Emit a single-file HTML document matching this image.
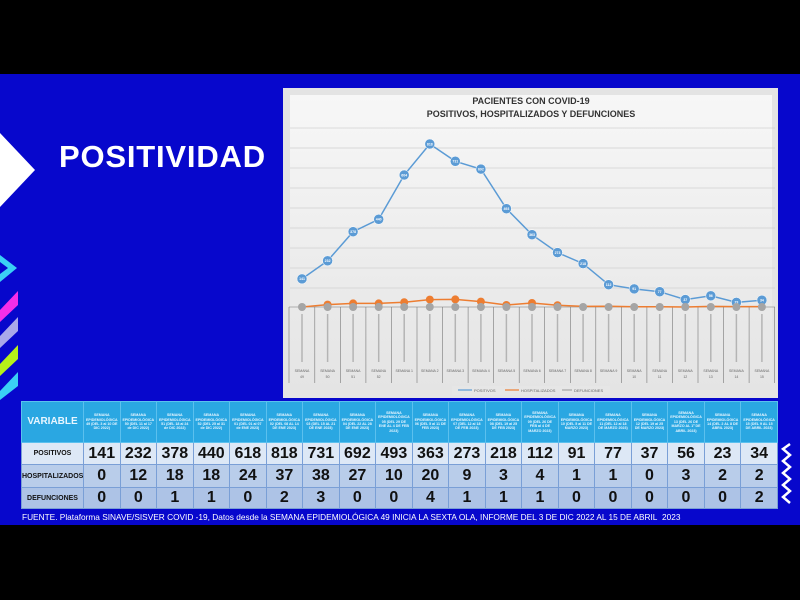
<!DOCTYPE html>
<html><head><meta charset="utf-8"><style>
*{margin:0;padding:0;box-sizing:border-box}
body{width:800px;height:600px;background:#000;position:relative;overflow:hidden;font-family:"Liberation Sans",sans-serif}
#slide{position:absolute;left:0;top:74px;width:800px;height:451px;background:#0707cc}
#title{position:absolute;left:59px;top:139px;color:#fff;font-weight:bold;font-size:31px;letter-spacing:0.8px}
table{position:absolute;left:21px;top:401px;width:757px;border-collapse:collapse;table-layout:fixed}
td{border:1px solid #7a9fd6;text-align:center;font-weight:bold;color:#111}
tr.h td{background:#2aa7e2;color:#e8f6ff;font-size:3.6px;line-height:4.4px;height:41px;padding:0 2px;border-color:#5bc0ee}
tr.h td.v{font-size:10px;line-height:12px}
tr.p td{background:#dde8f6;height:22px;font-size:16px}
tr.o td{background:#b9cdea;height:23px;font-size:16px}
tr.d td{background:#adc3e6;height:21px;font-size:16px}
td.l{font-size:7px!important}
#foot{position:absolute;left:22px;top:512px;color:#fff;font-size:8.3px}
</style></head><body>
<div id="slide"></div>
<svg width="800" height="600" style="position:absolute;left:0;top:0">
<defs><linearGradient id="g" x1="0" y1="0" x2="0" y2="1"><stop offset="0" stop-color="#f7f7f7"/><stop offset="1" stop-color="#e4e4e4"/></linearGradient></defs>
<polygon points="0,133 35,170 0,207" fill="#fff"/>
<polygon points="0,255 17,268 0,282 0,274 8,268 0,262" fill="#3ad0f5"/>
<polygon points="0,310 18,291 18,305 0,322" fill="#f52ee8"/>
<polygon points="0,336 18,317 18,331 0,348" fill="#a9a8ea"/>
<polygon points="0,364 18,345 18,359 0,376" fill="#b6f01a"/>
<polygon points="0,391 18,372 18,386 0,400" fill="#3ad0f5"/>
<polyline points="790,444 783,449 790,455 783,461 790,467 783,473 790,479 783,485 790,491 783,497 790,503" fill="none" stroke="#fff" stroke-width="2.5"/>
<rect x="283" y="88" width="495" height="310" fill="#e4e4e4"/>
<rect x="290" y="95" width="482" height="298" fill="url(#g)"/>
<text x="531" y="104" font-size="9" font-weight="bold" text-anchor="middle" fill="#333">PACIENTES CON COVID-19</text>
<text x="531" y="117" font-size="9" font-weight="bold" text-anchor="middle" fill="#333">POSITIVOS, HOSPITALIZADOS Y DEFUNCIONES</text>
<g stroke="#d0d0d0" stroke-width="0.8">
<line x1="290" x2="775" y1="128" y2="128"/><line x1="290" x2="775" y1="148" y2="148"/><line x1="290" x2="775" y1="168" y2="168"/><line x1="290" x2="775" y1="188" y2="188"/><line x1="290" x2="775" y1="208" y2="208"/><line x1="290" x2="775" y1="228" y2="228"/><line x1="290" x2="775" y1="248" y2="248"/><line x1="290" x2="775" y1="268" y2="268"/><line x1="290" x2="775" y1="288" y2="288"/>
</g>
<g stroke="#777" stroke-width="0.6" fill="none">
<line x1="289" x2="775" y1="307" y2="307"/>
<line x1="289" y1="307" x2="289" y2="383"/><line x1="314.8" y1="307" x2="314.8" y2="383"/><line x1="340.3" y1="307" x2="340.3" y2="383"/><line x1="365.9" y1="307" x2="365.9" y2="383"/><line x1="391.4" y1="307" x2="391.4" y2="383"/><line x1="417" y1="307" x2="417" y2="383"/><line x1="442.5" y1="307" x2="442.5" y2="383"/><line x1="468.1" y1="307" x2="468.1" y2="383"/><line x1="493.6" y1="307" x2="493.6" y2="383"/><line x1="519.2" y1="307" x2="519.2" y2="383"/><line x1="544.7" y1="307" x2="544.7" y2="383"/><line x1="570.3" y1="307" x2="570.3" y2="383"/><line x1="595.8" y1="307" x2="595.8" y2="383"/><line x1="621.4" y1="307" x2="621.4" y2="383"/><line x1="646.9" y1="307" x2="646.9" y2="383"/><line x1="672.5" y1="307" x2="672.5" y2="383"/><line x1="698" y1="307" x2="698" y2="383"/><line x1="723.6" y1="307" x2="723.6" y2="383"/><line x1="749.1" y1="307" x2="749.1" y2="383"/><line x1="774.7" y1="307" x2="774.7" y2="383"/>
</g>
<g font-size="3.5" fill="#666" text-anchor="middle">
<text x="302" y="372">SEMANA</text><text x="302" y="378">49</text>
<text x="327.6" y="372">SEMANA</text><text x="327.6" y="378">50</text>
<text x="353.1" y="372">SEMANA</text><text x="353.1" y="378">51</text>
<text x="378.7" y="372">SEMANA</text><text x="378.7" y="378">52</text>
<text x="404.2" y="372">SEMANA 1</text><text x="429.8" y="372">SEMANA 2</text><text x="455.3" y="372">SEMANA 3</text><text x="480.9" y="372">SEMANA 4</text><text x="506.4" y="372">SEMANA 5</text><text x="532" y="372">SEMANA 6</text><text x="557.5" y="372">SEMANA 7</text><text x="583.1" y="372">SEMANA 8</text><text x="608.6" y="372">SEMANA 9</text>
<text x="634.2" y="372">SEMANA</text><text x="634.2" y="378">10</text>
<text x="659.7" y="372">SEMANA</text><text x="659.7" y="378">11</text>
<text x="685.3" y="372">SEMANA</text><text x="685.3" y="378">12</text>
<text x="710.8" y="372">SEMANA</text><text x="710.8" y="378">13</text>
<text x="736.4" y="372">SEMANA</text><text x="736.4" y="378">14</text>
<text x="761.9" y="372">SEMANA</text><text x="761.9" y="378">15</text>
</g>
<g stroke="#b4b4b4" stroke-width="1.5">
<line x1="302" y1="314" x2="302" y2="362"/><line x1="327.6" y1="314" x2="327.6" y2="362"/><line x1="353.1" y1="314" x2="353.1" y2="362"/><line x1="378.7" y1="314" x2="378.7" y2="362"/><line x1="404.2" y1="314" x2="404.2" y2="362"/><line x1="429.8" y1="314" x2="429.8" y2="362"/><line x1="455.3" y1="314" x2="455.3" y2="362"/><line x1="480.9" y1="314" x2="480.9" y2="362"/><line x1="506.4" y1="314" x2="506.4" y2="362"/><line x1="532" y1="314" x2="532" y2="362"/><line x1="557.5" y1="314" x2="557.5" y2="362"/><line x1="583.1" y1="314" x2="583.1" y2="362"/><line x1="608.6" y1="314" x2="608.6" y2="362"/><line x1="634.2" y1="314" x2="634.2" y2="362"/><line x1="659.7" y1="314" x2="659.7" y2="362"/><line x1="685.3" y1="314" x2="685.3" y2="362"/><line x1="710.8" y1="314" x2="710.8" y2="362"/><line x1="736.4" y1="314" x2="736.4" y2="362"/><line x1="761.9" y1="314" x2="761.9" y2="362"/>
</g>
<polyline fill="none" stroke="#ed7d31" stroke-width="1.5" points="302,307 327.6,304.6 353.1,303.4 378.7,303.4 404.2,302.2 429.8,299.6 455.3,299.4 480.9,301.6 506.4,305 532,303 557.5,305.2 583.1,306.4 608.6,306.2 634.2,306.8 659.7,306.8 685.3,307 710.8,306.4 736.4,306.6 761.9,306.6"/>
<g fill="#ed7d31"><circle cx="327.6" cy="304.6" r="4"/><circle cx="353.1" cy="303.4" r="4"/><circle cx="378.7" cy="303.4" r="4"/><circle cx="404.2" cy="302.2" r="4"/><circle cx="429.8" cy="299.6" r="4"/><circle cx="455.3" cy="299.4" r="4"/><circle cx="480.9" cy="301.6" r="4"/><circle cx="506.4" cy="305" r="4"/><circle cx="532" cy="303" r="4"/><circle cx="557.5" cy="305.2" r="4"/></g>
<polyline fill="none" stroke="#5b9bd5" stroke-width="1.5" points="302,278.9 327.6,260.8 353.1,231.7 378.7,219.3 404.2,175 429.8,144 455.3,161.3 480.9,169.1 506.4,208.7 532,234.7 557.5,252.6 583.1,263.6 608.6,284.7 634.2,288.9 659.7,291.7 685.3,299.6 710.8,295.8 736.4,302.4 761.9,300.2"/>
<g fill="#5b9bd5" stroke="#fff" stroke-width="0.5"><circle cx="302" cy="278.9" r="5"/><circle cx="327.6" cy="260.8" r="5"/><circle cx="353.1" cy="231.7" r="5"/><circle cx="378.7" cy="219.3" r="5"/><circle cx="404.2" cy="175" r="5"/><circle cx="429.8" cy="144" r="5"/><circle cx="455.3" cy="161.3" r="5"/><circle cx="480.9" cy="169.1" r="5"/><circle cx="506.4" cy="208.7" r="5"/><circle cx="532" cy="234.7" r="5"/><circle cx="557.5" cy="252.6" r="5"/><circle cx="583.1" cy="263.6" r="5"/><circle cx="608.6" cy="284.7" r="5"/><circle cx="634.2" cy="288.9" r="5"/><circle cx="659.7" cy="291.7" r="5"/><circle cx="685.3" cy="299.6" r="5"/><circle cx="710.8" cy="295.8" r="5"/><circle cx="736.4" cy="302.4" r="5"/><circle cx="761.9" cy="300.2" r="5"/></g>
<g font-size="3.5" fill="#fff" text-anchor="middle" font-weight="bold">
<text x="302" y="280.2">141</text><text x="327.6" y="262.1">232</text><text x="353.1" y="233">378</text><text x="378.7" y="220.6">440</text><text x="404.2" y="176.3">604</text><text x="429.8" y="145.3">818</text><text x="455.3" y="162.6">731</text><text x="480.9" y="170.4">692</text><text x="506.4" y="210">493</text><text x="532" y="236">363</text><text x="557.5" y="253.9">273</text><text x="583.1" y="264.9">218</text><text x="608.6" y="286">112</text><text x="634.2" y="290.2">91</text><text x="659.7" y="293">77</text><text x="685.3" y="300.9">37</text><text x="710.8" y="297.1">56</text><text x="736.4" y="303.7">23</text><text x="761.9" y="301.5">34</text>
</g>
<g fill="#a5a5a5"><circle cx="302" cy="307" r="4"/><circle cx="327.6" cy="307" r="4"/><circle cx="353.1" cy="307" r="4"/><circle cx="378.7" cy="307" r="4"/><circle cx="404.2" cy="307" r="4"/><circle cx="429.8" cy="307" r="4"/><circle cx="455.3" cy="307" r="4"/><circle cx="480.9" cy="307" r="4"/><circle cx="506.4" cy="307" r="4"/><circle cx="532" cy="307" r="4"/><circle cx="557.5" cy="307" r="4"/><circle cx="583.1" cy="307" r="4"/><circle cx="608.6" cy="307" r="4"/><circle cx="634.2" cy="307" r="4"/><circle cx="659.7" cy="307" r="4"/><circle cx="685.3" cy="307" r="4"/><circle cx="710.8" cy="307" r="4"/><circle cx="736.4" cy="307" r="4"/><circle cx="761.9" cy="307" r="4"/></g>
<rect x="452" y="386" width="158" height="9" fill="#e6e6e6"/>
<line x1="458" x2="472" y1="390" y2="390" stroke="#5b9bd5" stroke-width="1.2"/><text x="474" y="392" font-size="4" fill="#666">POSITIVOS</text>
<line x1="505" x2="519" y1="390" y2="390" stroke="#ed7d31" stroke-width="1.2"/><text x="521" y="392" font-size="4" fill="#666">HOSPITALIZADOS</text>
<line x1="562" x2="572" y1="390" y2="390" stroke="#a5a5a5" stroke-width="1.2"/><text x="574" y="392" font-size="4" fill="#666">DEFUNCIONES</text>
</svg>
<div id="title">POSITIVIDAD</div>
<table>
<colgroup><col style="width:62px"><col span="19"></colgroup>
<tr class="h"><td class="v">VARIABLE</td>
<td>SEMANA EPIDEMIOLÓGICA 49 (DEL 3 al 10 DE DIC 2022)</td><td>SEMANA EPIDEMIOLÓGICA 50 (DEL 11 al 17 de DIC 2022)</td><td>SEMANA EPIDEMIOLÓGICA 51 (DEL 18 al 24 de DIC 2022)</td><td>SEMANA EPIDEMIOLÓGICA 52 (DEL 25 al 31 de DIC 2022)</td><td>SEMANA EPIDEMIOLÓGICA 01 (DEL 01 al 07 de ENE 2023)</td><td>SEMANA EPIDEMIOLÓGICA 02 (DEL 08 AL 14 DE ENE 2023)</td><td>SEMANA EPIDEMIOLÓGICA 03 (DEL 15 AL 21 DE ENE 2023)</td><td>SEMANA EPIDEMIOLÓGICA 04 (DEL 22 AL 28 DE ENE 2023)</td><td>SEMANA EPIDEMIOLÓGICA 05 (DEL 29 DE ENE AL 4 DE FEB 2023)</td><td>SEMANA EPIDEMIOLÓGICA 06 (DEL 5 al 11 DE FEB 2023)</td><td>SEMANA EPIDEMIOLÓGICA 07 (DEL 12 al 18 DE FEB 2023)</td><td>SEMANA EPIDEMIOLÓGICA 08 (DEL 19 al 25 DE FEB 2023)</td><td>SEMANA EPIDEMIOLÓGICA 09 (DEL 26 DE FEB al 4 DE MARZO 2023)</td><td>SEMANA EPIDEMIOLÓGICA 10 (DEL 5 al 11 DE MARZO 2023)</td><td>SEMANA EPIDEMIOLÓGICA 11 (DEL 12 al 18 DE MARZO 2023)</td><td>SEMANA EPIDEMIOLÓGICA 12 (DEL 19 al 25 DE MARZO 2023)</td><td>SEMANA EPIDEMIOLÓGICA 13 (DEL 26 DE MARZO AL 1º DE ABRIL 2023)</td><td>SEMANA EPIDEMIOLÓGICA 14 (DEL 2 AL 8 DE ABRIL 2023)</td><td>SEMANA EPIDEMIOLÓGICA 15 (DEL 9 AL 15 DE ABRIL 2023)</td></tr>
<tr class="p"><td class="l">POSITIVOS</td><td>141</td><td>232</td><td>378</td><td>440</td><td>618</td><td>818</td><td>731</td><td>692</td><td>493</td><td>363</td><td>273</td><td>218</td><td>112</td><td>91</td><td>77</td><td>37</td><td>56</td><td>23</td><td>34</td></tr>
<tr class="o"><td class="l">HOSPITALIZADOS</td><td>0</td><td>12</td><td>18</td><td>18</td><td>24</td><td>37</td><td>38</td><td>27</td><td>10</td><td>20</td><td>9</td><td>3</td><td>4</td><td>1</td><td>1</td><td>0</td><td>3</td><td>2</td><td>2</td></tr>
<tr class="d"><td class="l">DEFUNCIONES</td><td>0</td><td>0</td><td>1</td><td>1</td><td>0</td><td>2</td><td>3</td><td>0</td><td>0</td><td>4</td><td>1</td><td>1</td><td>1</td><td>0</td><td>0</td><td>0</td><td>0</td><td>0</td><td>2</td></tr>
</table>
<div id="foot">FUENTE. Plataforma SINAVE/SISVER COVID -19, Datos desde la SEMANA EPIDEMIOLÓGICA 49 INICIA LA SEXTA OLA, INFORME DEL 3 DE DIC 2022 AL 15 DE ABRIL&nbsp; 2023</div>
</body></html>
